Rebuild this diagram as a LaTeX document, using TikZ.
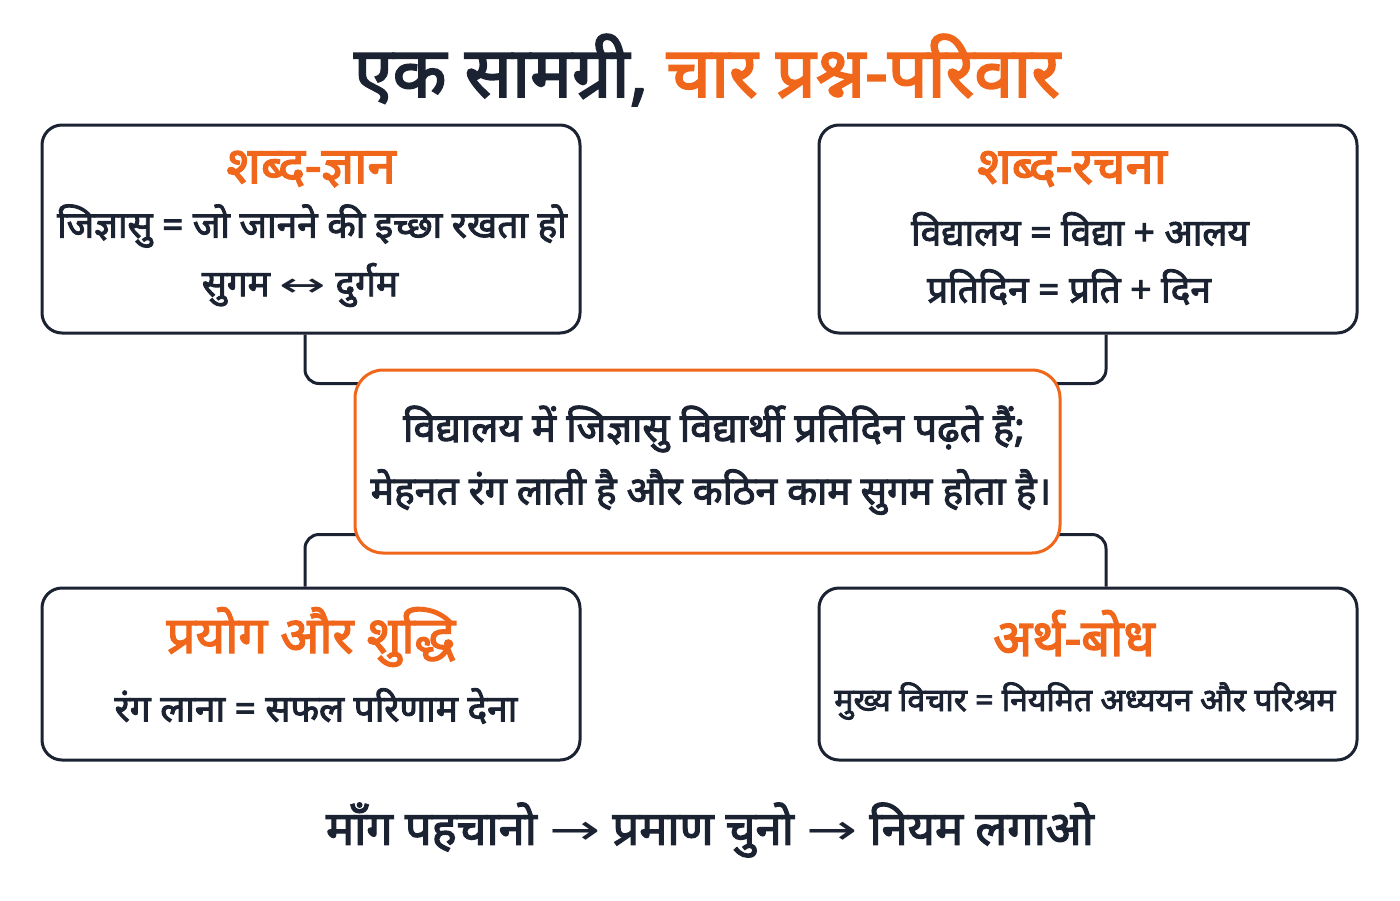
\documentclass[tikz,border=0pt]{standalone}
\usepackage{fontspec}
\newfontfamily\dev[Script=Devanagari, AutoFakeBold=2.6]{Noto Sans}
\newfontfamily\sym{DejaVu Sans}
\usetikzlibrary{backgrounds}
\definecolor{ink}{HTML}{1B2232}
\definecolor{accent}{HTML}{F0661A}
\tikzset{
  card/.style={draw=ink, line width=3pt, rounded corners=20pt, fill=white, inner sep=0pt},
  hub/.style={draw=accent, line width=3pt, rounded corners=28pt, fill=white, inner sep=0pt},
  conn/.style={draw=ink, line width=3pt, rounded corners=14pt},
  head/.style={font=\dev\bfseries\fontsize{51}{56}\selectfont, text=accent, inner sep=0pt},
  body/.style={font=\dev\bfseries\fontsize{37}{42}\selectfont, text=ink, inner sep=0pt},
  mid/.style={font=\dev\bfseries\fontsize{40}{46}\selectfont, text=ink, inner sep=0pt},
}
\newcommand{\arrLR}{{\sym\mdseries\scalebox{1.5}[0.9]{↔}}}
\newcommand{\arrR}{{\sym\mdseries\scalebox{1.3}[0.9]{→}}}
\begin{document}
\begin{tikzpicture}[x=1pt,y=-1pt]
\useasboundingbox (0,0) rectangle (1400,900);
% title
\node[font=\dev\bfseries\fontsize{70}{78}\selectfont, inner sep=0pt] (title) at (707,70)
  {\textcolor{ink}{एक सामग्री,} \textcolor{accent}{चार प्रश्न-परिवार}};
% cards
\node[card, minimum width=538pt, minimum height=208pt] (tl) at (311,229) {};
\node[card, minimum width=538pt, minimum height=208pt] (tr) at (1088,229) {};
\node[card, minimum width=538pt, minimum height=172pt] (bl) at (311,674) {};
\node[card, minimum width=538pt, minimum height=172pt] (br) at (1088,674) {};
\node[hub, minimum width=705pt, minimum height=183pt] (ctr) at (707.5,461.5) {};
% card texts
\node[head] (tlh) at (311,169) {शब्द-ज्ञान};
\node[body] (tl1) at (312,226) {जिज्ञासु = जो जानने की इच्छा रखता हो};
\node[body] (tl2) at (300,285) {सुगम \arrLR{} दुर्गम};
\node[head] (trh) at (1072,169) {शब्द-रचना};
\node[body] (tr1) at (1080,229) {विद्यालय = विद्या + आलय};
\node[body] (tr2) at (1069,287) {प्रतिदिन = प्रति + दिन};
\node[head] (blh) at (311,637) {प्रयोग और शुद्धि};
\node[body] (bl1) at (316,706) {रंग लाना = सफल परिणाम देना};
\node[head] (brh) at (1074,633) {अर्थ-बोध};
\node[body, font=\dev\bfseries\fontsize{32}{38}\selectfont] (br1) at (1085,701) {मुख्य विचार = नियमित अध्ययन और परिश्रम};
\node[mid] (c1) at (714,429) {विद्यालय में जिज्ञासु विद्यार्थी प्रतिदिन पढ़ते हैं;};
\node[mid, font=\dev\bfseries\fontsize{39}{46}\selectfont] (c2) at (711,492) {मेहनत रंग लाती है और कठिन काम सुगम होता है।};
% footer
\node[font=\dev\bfseries\fontsize{47}{52}\selectfont, text=ink, inner sep=0pt] (foot) at (710,830)
  {माँग पहचानो \arrR{} प्रमाण चुनो \arrR{} नियम लगाओ};
% connectors
\begin{scope}[on background layer]
\fill[white] (0,0) rectangle (1400,900);
\draw[conn] ([xshift=-6pt]tl.south) |- ([xshift=14pt,yshift=-15pt]ctr.north west);
\draw[conn] ([xshift=18pt]tr.south) |- ([xshift=-14pt,yshift=-15pt]ctr.north east);
\draw[conn] ([xshift=-6pt]bl.north) |- ([xshift=14pt,yshift=20pt]ctr.south west);
\draw[conn] ([xshift=18pt]br.north) |- ([xshift=-14pt,yshift=20pt]ctr.south east);
\end{scope}
\end{tikzpicture}
\end{document}
